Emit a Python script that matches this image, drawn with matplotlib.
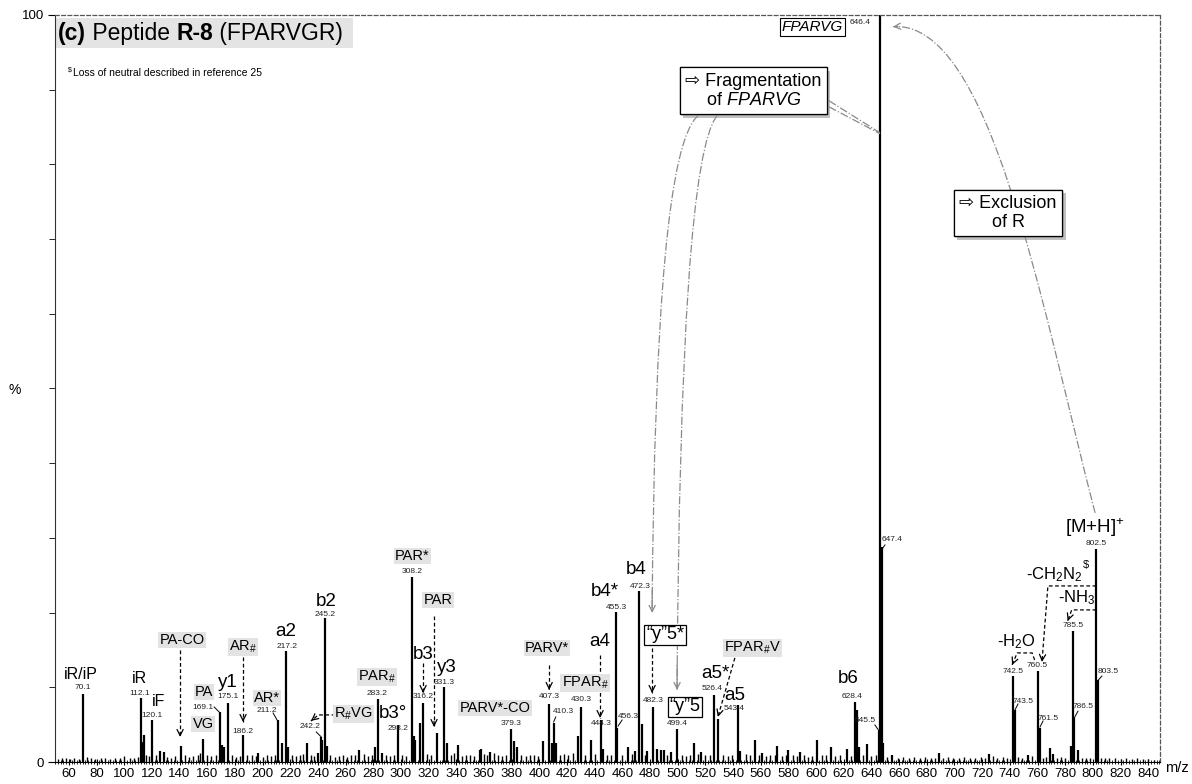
import matplotlib
matplotlib.use('Agg')
import matplotlib.pyplot as plt
import matplotlib.patheffects as pe
from matplotlib.path import Path
from matplotlib.patches import PathPatch, Rectangle
from matplotlib.ticker import MultipleLocator

plt.rcParams['font.family'] = ['Liberation Sans', 'DejaVu Sans']
plt.rcParams['mathtext.fontset'] = 'custom'
plt.rcParams['mathtext.rm'] = 'Liberation Sans'
plt.rcParams['mathtext.it'] = 'Liberation Sans:italic'
plt.rcParams['mathtext.bf'] = 'Liberation Sans:bold'

# main peaks (m/z, relative intensity %)
peak_mz = [70.1, 112.1, 113.1, 114.1, 120.1, 126, 129, 141.1, 157.1, 169.1,
           171, 172, 175.1, 186.2, 197, 211.2, 214.2, 217.2, 218.2, 232.2,
           240, 242.2, 243.2, 245.2, 246.2, 270, 281, 283.2, 286, 298.2,
           308.2, 309.2, 310, 314, 316.2, 326, 331.3, 333, 341, 357,
           358, 364, 379.3, 382, 384, 403, 407.3, 409, 410.3, 412,
           428, 430.3, 437, 444.3, 446, 455.3, 456.3, 464, 469, 472.3,
           474, 478, 482.3, 485, 488, 490, 495, 499.4, 512, 517,
           526.4, 529, 543.4, 545, 556, 561, 572, 580, 588, 601,
           611, 622, 628.4, 629.5, 631, 637, 645.5, 646.4, 647.4, 648.4,
           655, 689, 725, 742.5, 743.5, 753, 760.5, 761.5, 769, 771,
           784.5, 785.5, 786.5, 789, 802.5, 803.5]
peak_pct = [9.1, 8.6, 2.7, 3.6, 5.6, 1.5, 1.3, 2.1, 3.1, 6.7,
            2.3, 2.0, 7.9, 3.6, 1.2, 5.6, 2.5, 14.9, 2.0, 2.5,
            1.2, 3.4, 3.0, 19.3, 2.2, 1.6, 2.0, 8.4, 1.2, 4.9,
            24.8, 3.5, 2.9, 5.2, 7.9, 3.9, 10.0, 2.5, 2.3, 1.6,
            1.8, 1.3, 4.4, 2.8, 2.0, 2.8, 7.7, 2.5, 5.2, 2.6,
            3.5, 7.4, 3.0, 5.6, 1.8, 20.1, 4.6, 2.0, 1.5, 22.9,
            5.1, 1.5, 7.4, 1.8, 1.6, 1.6, 1.4, 4.4, 2.6, 1.4,
            9.0, 5.7, 7.6, 1.5, 2.9, 1.2, 2.1, 1.6, 1.3, 3.0,
            2.0, 1.8, 8.0, 7.0, 2.0, 2.4, 4.2, 100, 28.8, 2.5,
            1.0, 1.2, 1.1, 11.5, 7.0, 1.0, 12.2, 4.6, 1.9, 1.1,
            2.2, 17.5, 5.9, 1.6, 28.5, 11.0]

# low-level baseline peaks
grass_mz = [52, 55, 58, 61, 64, 67, 73, 76, 79, 83,
            86, 90, 93, 97, 100, 104, 107, 110, 116, 118,
            123, 131, 134, 137, 144, 147, 150, 153, 155, 160,
            163, 166, 178, 181, 184, 189, 192, 195, 200, 203,
            206, 209, 221, 224, 227, 229, 235, 237, 249, 252,
            255, 258, 261, 264, 267, 273, 276, 279, 289, 292,
            295, 301, 304, 319, 322, 336, 338, 344, 347, 350,
            353, 360, 362, 367, 370, 373, 376, 387, 390, 393,
            396, 399, 415, 418, 421, 424, 433, 440, 449, 452,
            460, 467, 476, 492, 503, 506, 509, 515, 520, 523,
            533, 536, 539, 549, 552, 559, 564, 567, 570, 575,
            578, 583, 586, 591, 594, 597, 604, 607, 614, 617,
            625, 634, 640, 643, 651, 659, 663, 667, 671, 675,
            679, 683, 686, 692, 695, 699, 703, 707, 711, 715,
            719, 722, 728, 731, 735, 738, 746, 749, 756, 764,
            766, 774, 777, 780, 792, 795, 798, 806, 809, 812,
            816, 820, 824, 828, 832, 836, 840, 844]
grass_pct = [0.4, 0.5, 0.6, 0.4, 0.5, 0.4, 0.7, 0.5, 0.4, 0.6,
             0.5, 0.4, 0.6, 0.5, 0.8, 0.6, 0.5, 0.7, 0.9, 0.8,
             1.0, 0.7, 0.6, 0.8, 0.9, 0.7, 0.8, 1.0, 1.2, 0.9,
             0.8, 1.0, 0.9, 0.7, 0.8, 0.9, 1.0, 0.8, 0.7, 0.9,
             0.8, 0.9, 1.0, 0.8, 0.9, 1.1, 0.9, 0.8, 1.0, 0.7,
             0.8, 0.9, 0.7, 1.0, 0.9, 1.1, 0.8, 0.9, 1.0, 0.8,
             0.9, 1.0, 0.8, 1.1, 1.0, 0.9, 1.2, 0.8, 0.9, 1.0,
             0.8, 1.1, 0.9, 1.2, 1.0, 0.8, 0.9, 1.0, 0.8, 0.9,
             1.0, 0.8, 0.9, 1.1, 0.9, 1.2, 1.0, 1.1, 0.9, 1.0,
             0.9, 1.1, 1.0, 0.9, 1.0, 0.8, 0.9, 1.1, 0.9, 1.0,
             0.9, 0.8, 1.0, 1.1, 0.9, 1.0, 0.8, 0.9, 1.0, 0.8,
             0.9, 1.0, 0.8, 0.9, 0.7, 0.8, 0.9, 1.0, 0.8, 0.9,
             0.8, 0.9, 0.8, 0.9, 0.7, 0.6, 0.7, 0.6, 0.7, 0.6,
             0.7, 0.6, 0.5, 0.6, 0.7, 0.5, 0.6, 0.7, 0.5, 0.6,
             0.7, 0.6, 0.8, 0.6, 0.7, 0.5, 0.7, 0.6, 0.8, 0.6,
             0.7, 0.5, 0.7, 0.6, 0.6, 0.5, 0.6, 0.5, 0.6, 0.5,
             0.5, 0.4, 0.5, 0.4, 0.5, 0.4, 0.4, 0.3]

x_ticks = list(range(60, 841, 20))

# (text, m/z, %, fontsize, style)
ion_labels = [
    ('iR/iP', 68.9, 11.65, 11.5, 'plain'), ('iR', 110.8, 11.12, 11.5, 'plain'),
    ('iF', 124.5, 8.04, 11.5, 'plain'), ('PA-CO', 141.9, 16.34, 10.5, 'gray'),
    ('PA', 157.7, 9.37, 10.5, 'gray'), ('VG', 157.0, 5.09, 10.5, 'gray'),
    ('y1', 175.1, 10.58, 13.5, 'plain'), (r'AR$_{\#}$', 185.9, 15.4, 10.5, 'gray'),
    ('AR*', 203.3, 8.57, 10.5, 'gray'), ('a2', 217.0, 17.41, 13.5, 'plain'),
    ('b2', 245.9, 21.43, 13.5, 'plain'), (r'R$_{\#}$VG', 265.4, 6.43, 10.5, 'gray'),
    (r'PAR$_{\#}$', 282.7, 11.38, 10.5, 'gray'), ('b3°', 294.3, 6.43, 13.5, 'plain'),
    ('PAR*', 308.0, 27.59, 10.5, 'gray'), ('PAR', 326.8, 21.7, 10.5, 'gray'),
    ('b3', 316.0, 14.33, 13.5, 'plain'), ('y3', 333.4, 12.59, 13.5, 'plain'),
    ('PARV*-CO', 368.0, 7.23, 10.5, 'gray'), ('PARV*', 405.6, 15.27, 10.5, 'gray'),
    (r'FPAR$_{\#}$', 433.0, 10.58, 10.5, 'gray'), ('a4', 443.9, 16.07, 13.5, 'plain'),
    ('b4*', 447.5, 22.77, 13.5, 'plain'), ('b4', 469.9, 25.71, 13.5, 'plain'),
    ('\u201cy\u201d5*', 490.9, 17.01, 13, 'box'), ('\u201cy\u201d5', 505.3, 7.37, 13, 'box'),
    ('a5*', 527.2, 11.79, 13.5, 'plain'), ('a5', 540.9, 8.84, 13.5, 'plain'),
    (r'FPAR$_{\#}$V', 553.9, 15.27, 10.5, 'gray'), ('b6', 623.2, 11.12, 13.5, 'plain'),
    (r'[M+H]$^{+}$', 801.6, 31.34, 13.5, 'plain'),
    (r'-CH$_2$N$_2$', 772.0, 25.04, 12, 'plain'),
    (r'-NH$_3$', 788.6, 21.96, 12, 'plain'), (r'-H$_2$O', 744.5, 16.07, 12, 'plain'),
]

# small m/z labels (text, m/z, %)
mz_labels = [
    ('70.1', 70.3, 9.91), ('112.1', 111.5, 9.11), ('120.1', 120.2, 6.29),
    ('169.1', 157.0, 7.23), ('175.1', 175.1, 8.71), ('186.2', 185.9, 4.15),
    ('211.2', 203.3, 6.83), ('217.2', 217.7, 15.4), ('245.2', 245.2, 19.69),
    ('242.2', 234.3, 4.69), ('283.2', 282.7, 9.11), ('298.2', 297.9, 4.42),
    ('308.2', 308.0, 25.45), ('316.2', 316.0, 8.71), ('331.3', 331.2, 10.58),
    ('379.3', 379.6, 5.22), ('407.3', 407.1, 8.71), ('410.3', 417.2, 6.7),
    ('430.3', 430.2, 8.3), ('444.3', 444.6, 5.09), ('455.3', 455.4, 20.62),
    ('456.3', 464.1, 6.03), ('472.3', 472.8, 23.44), ('482.3', 482.2, 8.17),
    ('499.4', 499.5, 5.22), ('526.4', 525.1, 9.78), ('543.4', 540.9, 7.1),
    ('628.4', 626.1, 8.71), ('645.5', 635.5, 5.49), ('647.4', 654.9, 29.73),
    ('802.5', 802.4, 29.19), ('742.5', 742.3, 12.05), ('760.5', 759.7, 12.86),
    ('743.5', 749.6, 8.04), ('761.5', 767.6, 5.89), ('786.5', 792.9, 7.37),
    ('803.5', 811.0, 12.05), ('785.5', 785.7, 18.21), ('646.4', 631.9, 98.97),
]

# short leader lines from m/z label to peak top
leaders = [
    ((165.0, 7.37), (168.6, 6.7)), ((207.6, 6.56), (210.5, 5.62)),
    ((238.8, 4.02), (242.4, 3.35)), ((411.9, 6.03), (410.3, 5.36)),
    ((459.8, 5.62), (456.9, 4.82)), ((642.5, 4.96), (645.5, 4.15)),
    ((649.8, 29.06), (647.6, 28.5)), ((745.9, 7.77), (743.7, 6.96)),
    ((764.0, 5.49), (761.8, 4.69)), ((789.2, 6.8), (786.6, 5.9)),
    ((806.5, 11.5), (803.6, 10.9)),
]

# dashed black arrows (polyline, head at last point)
dashed_arrows = [
    [(140.4, 15.0), (140.4, 3.35)],
    [(185.9, 14.06), (185.9, 5.36)],
    [(252.6, 6.3), (240.3, 6.3), (235.0, 5.5)],
    [(323.9, 19.55), (323.9, 4.69)],
    [(316.0, 13.26), (316.0, 9.24)],
    [(407.1, 12.99), (407.1, 9.64)],
    [(443.9, 14.33), (443.9, 5.89)],
    [(481.5, 15.3), (481.5, 9.24)],
    [(541.3, 13.93), (529.0, 6.03)],
    [(802.5, 23.57), (767.5, 23.57), (763.2, 13.39)],
    [(802.5, 20.36), (784.7, 20.36), (781.8, 18.88)],
    [(757.9, 13.66), (756.1, 14.6), (745.3, 14.6), (741.6, 12.99)],
]

fig = plt.figure(figsize=(11.92, 7.84), dpi=100)
ax = fig.add_axes([0.04614, 0.02806, 0.92701, 0.95281])

ax.vlines(grass_mz, 0, grass_pct, color='black', lw=1.0, zorder=2)
ax.vlines(peak_mz, 0, peak_pct, color='black', lw=1.6, zorder=2)

ax.set_xlim(50, 848.5)
ax.set_ylim(0, 100)

# axes frame
for side in ('top', 'right'):
    ax.spines[side].set_linestyle((0, (3, 2)))
    ax.spines[side].set_color('#555555')
    ax.spines[side].set_linewidth(0.9)
ax.spines['left'].set_color('#333333')
ax.spines['bottom'].set_color('black')

ax.set_xticks(x_ticks)
ax.xaxis.set_minor_locator(MultipleLocator(2))
ax.tick_params(axis='x', which='major', direction='inout', length=5, width=0.8,
               labelsize=9.5, pad=2)
ax.tick_params(axis='x', which='minor', direction='inout', length=3, width=0.6)
ax.set_yticks([0, 100])
ax.yaxis.set_minor_locator(MultipleLocator(10))
ax.tick_params(axis='y', which='major', direction='out', length=5, width=0.8,
               labelsize=9.5, pad=3)
ax.tick_params(axis='y', which='minor', direction='out', length=4, width=0.6)

fig.text(0.0126, 0.5026, '%', fontsize=10, ha='center', va='center')
fig.text(0.987, 0.0204, 'm/z', fontsize=10.5, ha='center', va='center')

# labels
for text, x, y, size, style in ion_labels:
    kw = {}
    if style == 'gray':
        kw['bbox'] = dict(boxstyle='square,pad=0.08', fc='#e3e3e3', ec='none')
    elif style == 'box':
        kw['bbox'] = dict(boxstyle='square,pad=0.1', fc='white', ec='black', lw=0.9)
    ax.text(x, y, text, fontsize=size, ha='center', va='center', zorder=5, **kw)
# superscript $ after -CH2N2
ax.text(794.8, 26.4, '$', fontsize=8, ha='center', va='center', zorder=5)

for text, x, y in mz_labels:
    ax.text(x, y, text, fontsize=6, ha='center', va='center', color='#222222', zorder=5)

for (x0, y0), (x1, y1) in leaders:
    ax.plot([x0, x1], [y0, y1], color='black', lw=0.7, zorder=4)


def arrow_head(p_from, p_to, color='black'):
    dx, dy = p_to[0] - p_from[0], p_to[1] - p_from[1]
    start = (p_to[0] - 0.05 * dx, p_to[1] - 0.05 * dy)
    ax.annotate('', xy=p_to, xytext=start,
                arrowprops=dict(arrowstyle='->', color=color, lw=0.9,
                                mutation_scale=11, shrinkA=0, shrinkB=0), zorder=4)


for pts in dashed_arrows:
    ax.plot([p[0] for p in pts], [p[1] for p in pts], color='black', lw=0.9,
            ls=(0, (3, 2)), zorder=4)
    arrow_head(pts[-2], pts[-1])

# gray dash-dot connectors
gray = '#8a8a8a'
curves = [
    ([(514.7, 86.51), (483.6, 81.96), (481.5, 19.95)], True),
    ([(528.4, 86.51), (501.7, 80.41), (499.5, 9.64)], True),
    ([(801.6, 33.35), (761.8, 61.87), (725.7, 99.37), (655.6, 98.43)], True),
    ([(609.3, 88.52), (646.2, 84.23)], False),
    ([(609.3, 87.71), (646.2, 84.1)], False),
]
for verts, head in curves:
    if len(verts) == 3:
        codes = [Path.MOVETO, Path.CURVE3, Path.CURVE3]
    elif len(verts) == 4:
        codes = [Path.MOVETO, Path.CURVE4, Path.CURVE4, Path.CURVE4]
    else:
        codes = [Path.MOVETO, Path.LINETO]
    ax.add_patch(PathPatch(Path(verts, codes), fill=False, ec=gray, lw=0.9,
                           ls='-.', zorder=3))
    if head:
        arrow_head(verts[-2], verts[-1], color=gray)

# boxed notes at top
shadow = [pe.withSimplePatchShadow(offset=(2.5, -2.5), shadow_rgbFace='#999999', alpha=0.6),
          pe.Normal()]
t = ax.text(554.5, 89.86, '\u21e8 Fragmentation\nof $\\mathit{FPARVG}$', fontsize=13,
            ha='center', va='center', multialignment='center', linespacing=1.15, zorder=6,
            bbox=dict(boxstyle='square,pad=0.3', fc='white', ec='black', lw=0.9))
t.get_bbox_patch().set_path_effects(shadow)
t = ax.text(738.7, 73.5, '\u21e8 Exclusion\nof R', fontsize=13,
            ha='center', va='center', multialignment='center', linespacing=1.15, zorder=6,
            bbox=dict(boxstyle='square,pad=0.3', fc='white', ec='black', lw=0.9))
t.get_bbox_patch().set_path_effects(shadow)
ax.text(597.1, 98.43, 'FPARVG', fontsize=11, style='italic', ha='center', va='center',
        zorder=6, bbox=dict(boxstyle='square,pad=0.12', fc='white', ec='black', lw=0.8))

# title and footnote
ax.add_patch(Rectangle((0.0, 0.9558), 0.2697, 0.0404, transform=ax.transAxes,
                       fc='#e4e4e4', ec='none', zorder=1))
t1 = ax.text(0.003, 0.9595, '(c)', transform=ax.transAxes, fontsize=16.5,
             fontweight='bold', va='bottom', ha='left', zorder=6)
t2 = ax.annotate(' Peptide ', xycoords=t1, xy=(1, 0), va='bottom', ha='left',
                 fontsize=16.5, zorder=6)
t3 = ax.annotate('R-8', xycoords=t2, xy=(1, 0), va='bottom', ha='left',
                 fontsize=16.5, fontweight='bold', zorder=6)
ax.annotate(' (FPARVGR)', xycoords=t3, xy=(1, 0), va='bottom', ha='left',
            fontsize=16.5, zorder=6)
ax.text(61.0, 92.6, '$', fontsize=5, ha='center', va='center')
ax.text(62.8, 92.27, 'Loss of neutral described in reference 25', fontsize=7.5,
        ha='left', va='center')

fig.savefig('out.png', dpi=100)
